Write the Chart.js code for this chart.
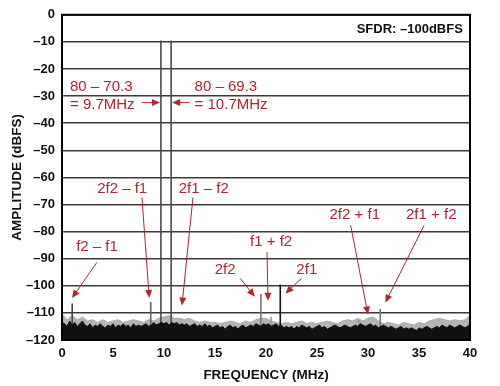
<!DOCTYPE html>
<html>
<head>
<meta charset="utf-8">
<script src="https://cdn.jsdelivr.net/npm/chart.js@4"></script>
<style>
  body { margin: 0; background: #fff; }
  #wrap { width: 500px; height: 386px; }
</style>
</head>
<body>
<div id="wrap"><canvas id="c" width="500" height="386"></canvas></div>
<script>
// noise floor, black part (dBFS), every 0.25 MHz from 0 to 40
const floorLevel = [
  -113.5, -114, -115, -113, -114.5, -113.5, -115, -114, -113,
  -114.5, -115, -114, -115.5, -114.5, -115, -114, -115,
  -115.5, -114.5, -115, -114, -115.5, -114.5, -115, -114,
  -115, -114.5, -115.5, -114, -115, -114.5, -115, -114.5,
  -114, -115, -114.5, -113.5, -114.5, -114, -113.5, -114,
  -113.5, -114.5, -113.5, -114, -113.5, -114.5, -114, -114.5,
  -114, -115, -114.5, -114, -115, -114.5, -115, -114,
  -115, -114.5, -115.5, -115, -114.5, -115.5, -115, -116,
  -115, -114.5, -115.5, -115, -116, -115, -114.5, -115.5,
  -115, -114.5, -115, -114, -114.5, -115, -114, -114.5,
  -114, -115, -114.5, -114, -115, -114.5, -115.5, -115,
  -115.5, -115, -116, -115, -115.5, -114.5, -115, -115.5,
  -115, -116, -115.5, -115, -114.5, -115.5, -115, -116,
  -115.5, -115, -114.5, -115, -115.5, -115, -114.5, -115,
  -115.5, -115, -114.5, -115, -114, -114.5, -115, -114.5,
  -114, -115, -114.5, -115.5, -115, -114.5, -115, -115.5,
  -115, -115.5, -116, -115.5, -115, -116, -115.5, -116,
  -115.5, -116, -116.5, -115.5, -116, -115.5, -115, -115.5,
  -116, -115.5, -115, -115.5, -114.5, -115, -115.5, -114.5,
  -115, -115.5, -115, -114.5, -115, -115.5, -115, -114
];

// noise peaks, grey part (dBFS), every 0.5 MHz from 0 to 40
const peakLevel = [
  -110.5, -112.5, -111, -112.5, -111.5, -113, -112.5, -113.5, -112.5, -113.5,
  -113, -112.5, -113.5, -113, -112.5, -113, -113.5, -112.5, -113, -112,
  -111.5, -111, -112, -112, -112.5, -112, -113, -113.5, -113, -113.5,
  -113.5, -114, -113.5, -113, -113.5, -114, -113, -113.5, -112.5, -112,
  -112, -113, -113.5, -114, -113.5, -114, -113.5, -113, -114, -113.5,
  -114, -113.5, -113, -113.5, -114, -113, -112.5, -113, -112, -113,
  -112, -111.5, -113, -114, -113.5, -114, -114.5, -113.5, -114, -114.5,
  -113.5, -114, -113, -112.5, -112, -112.5, -113, -112.5, -113, -112.5,
  -111
];

// tones and spurs
const spurFreq  = [9.7, 10.7, 1.0, 8.7, 11.7, 19.5, 20.5, 21.4, 29.1, 31.2];
const spurLevel = [-9.5, -9.5, -106.5, -106, -112, -103, -111.5, -99.5, -112.5, -108.5];
const spurColor = ['#4a4a4a', '#4a4a4a', '#444', '#666', '#aaa', '#777', '#999', '#111', '#999', '#777'];

const yTicks = [0, -10, -20, -30, -40, -50, -60, -70, -80, -90, -100, -110, -120];
const xTicks = [0, 5, 10, 15, 20, 25, 30, 35, 40];

// annotations: text, position (MHz, dBFS), arrow from -> to
const notes = [
  { text: '80 \u2013 70.3', x: 0.78, y: -26.5, align: 'left' },
  { text: '= 9.7MHz', x: 0.78, y: -33.1, align: 'left', arrow: [7.8, -32.4, 9.6, -32.4] },
  { text: '80 \u2013 69.3', x: 13.0, y: -26.5, align: 'left' },
  { text: '= 10.7MHz', x: 13.0, y: -33.1, align: 'left', arrow: [12.5, -32.4, 10.8, -32.4] },
  { text: '2f2 \u2013 f1', x: 5.9, y: -64.4, arrow: [7.84, -67.4, 8.55, -104.5] },
  { text: '2f1 \u2013 f2', x: 13.9, y: -64.4, arrow: [12.84, -67.4, 11.76, -107.3] },
  { text: 'f2 \u2013 f1', x: 3.43, y: -85.8, arrow: [3.43, -91.3, 0.98, -104.5] },
  { text: '2f2', x: 16.0, y: -94.2, arrow: [17.45, -97.2, 18.9, -104] },
  { text: 'f1 + f2', x: 20.5, y: -83.9, arrow: [20.1, -87.6, 20.2, -105.5] },
  { text: '2f1', x: 24.0, y: -94.2, arrow: [23.5, -97.2, 21.9, -102.8] },
  { text: '2f2 + f1', x: 28.7, y: -74.0, arrow: [28.3, -77.7, 30.0, -110.6] },
  { text: '2f1 + f2', x: 36.2, y: -74.0, arrow: [35.5, -77.7, 31.7, -106.2] }
];

const FONT = '"Liberation Sans", Arial, sans-serif';
const RED = '#b8232b';

const floorData = floorLevel.map((v, i) => ({ x: i * 0.25, y: v }));
const peakData = peakLevel.map((v, i) => ({ x: i * 0.5, y: v }));

// spurs sit behind the black floor, above the grey peaks
const spurSets = spurFreq.map((f, i) => ({
  data: [{ x: f, y: -120 }, { x: f, y: spurLevel[i] }],
  borderColor: spurColor[i],
  borderWidth: 1.6,
  pointRadius: 0,
  fill: false,
  order: 1.5
}));

const frame = {
  id: 'frame',
  afterDatasetsDraw(chart) {
    const { ctx, chartArea: a, scales } = chart;
    ctx.save();
    ctx.strokeStyle = '#000';
    ctx.lineWidth = 2;
    ctx.strokeRect(a.left, a.top, a.right - a.left, a.bottom - a.top);

    const px = v => scales.x.getPixelForValue(v);
    const py = v => scales.y.getPixelForValue(v);

    ctx.fillStyle = '#111';
    ctx.font = 'bold 13px ' + FONT;
    ctx.textAlign = 'right';
    ctx.textBaseline = 'middle';
    ctx.fillText('SFDR: \u2013100dBFS', px(39.3), py(-5.5));

    ctx.font = '15px ' + FONT;
    notes.forEach(n => {
      ctx.fillStyle = RED;
      ctx.textAlign = n.align || 'center';
      ctx.fillText(n.text, px(n.x), py(n.y));
      if (n.arrow) {
        const [x1, y1, x2, y2] = n.arrow;
        const ax = px(x1), ay = py(y1), bx = px(x2), by = py(y2);
        const ang = Math.atan2(by - ay, bx - ax);
        ctx.strokeStyle = RED;
        ctx.lineWidth = 1;
        ctx.beginPath();
        ctx.moveTo(ax, ay);
        ctx.lineTo(bx - 5 * Math.cos(ang), by - 5 * Math.sin(ang));
        ctx.stroke();
        ctx.beginPath();
        ctx.moveTo(bx, by);
        ctx.lineTo(bx - 8 * Math.cos(ang) + 3.5 * Math.sin(ang), by - 8 * Math.sin(ang) - 3.5 * Math.cos(ang));
        ctx.lineTo(bx - 8 * Math.cos(ang) - 3.5 * Math.sin(ang), by - 8 * Math.sin(ang) + 3.5 * Math.cos(ang));
        ctx.closePath();
        ctx.fill();
      }
    });
    ctx.restore();
  }
};

new Chart(document.getElementById('c'), {
  type: 'line',
  data: {
    datasets: [
      ...spurSets,
      {
        data: floorData,
        borderColor: '#111',
        backgroundColor: '#111',
        borderWidth: 1,
        pointRadius: 0,
        fill: 'start',
        order: 1
      },
      {
        data: peakData,
        borderColor: '#ababab',
        backgroundColor: '#b4b4b4',
        borderWidth: 1,
        pointRadius: 0,
        fill: 'start',
        order: 2
      }
    ]
  },
  options: {
    responsive: false,
    animation: false,
    events: [],
    layout: { padding: { top: 14, right: 30, left: 0, bottom: 0 } },
    plugins: { legend: { display: false }, tooltip: { enabled: false } },
    scales: {
      x: {
        type: 'linear',
        min: 0,
        max: 40,
        afterFit: s => { s.height = 46; },
        afterBuildTicks: s => { s.ticks = xTicks.map(v => ({ value: v })); },
        grid: { display: false, drawTicks: false },
        border: { display: false },
        ticks: {
          padding: 6,
          color: '#111',
          font: { family: FONT, size: 13, weight: 'bold' },
          maxRotation: 0
        },
        title: {
          display: true,
          text: 'FREQUENCY (MHz)',
          color: '#111',
          font: { family: FONT, size: 13.5, weight: 'bold' },
          padding: { top: 0, bottom: 3 }
        }
      },
      y: {
        min: -120,
        max: 0,
        afterFit: s => { s.width = 62; },
        afterBuildTicks: s => { s.ticks = yTicks.map(v => ({ value: v })); },
        grid: { color: '#3a3a3a', lineWidth: 1.5, drawTicks: false },
        border: { display: false },
        ticks: {
          padding: 7,
          color: '#111',
          font: { family: FONT, size: 13, weight: 'bold' },
          callback: v => v === 0 ? '0' : '\u2013' + Math.abs(v)
        },
        title: {
          display: true,
          text: 'AMPLITUDE (dBFS)',
          color: '#111',
          font: { family: FONT, size: 13.5, weight: 'bold' },
          padding: { top: 9, bottom: 0 }
        }
      }
    }
  },
  plugins: [frame]
});
</script>
</body>
</html>
